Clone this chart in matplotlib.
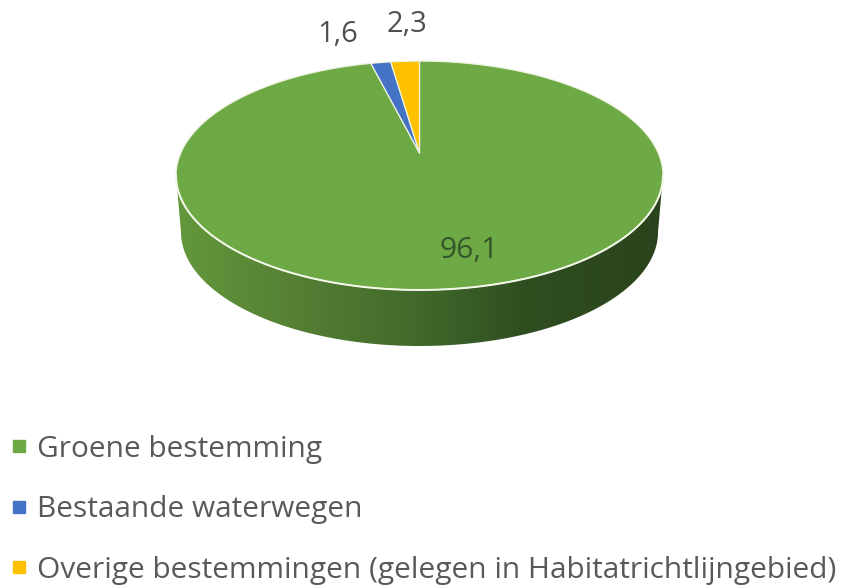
import numpy as np
import matplotlib
matplotlib.use('Agg')
import matplotlib.pyplot as plt
from matplotlib.colors import LinearSegmentedColormap
from matplotlib.lines import Line2D
from matplotlib.patches import Polygon

categories = ['Groene bestemming', 'Bestaande waterwegen',
              'Overige bestemmingen (gelegen in Habitatrichtlijngebied)']
values = [96.1, 1.6, 2.3]
labels = ['96,1', '1,6', '2,3']
colors = ['#6DA945', '#4472C4', '#FFC000']

W, H = 846, 585
APEX_X, APEX_Y = 419.5, 153
RADIUS = 238.7
SCALE_Y = 110
PERSP = 0.1965
WALL_STOPS = [(0, '#64983c'), (0.25, '#557f34'), (0.5, '#41692b'),
              (0.72, '#2f4e20'), (1, '#2b431c')]


def project(theta):
    # theta runs clockwise from 12 o'clock, the pie is tilted in perspective
    u, v = np.sin(theta), np.cos(theta)
    d = 1 + PERSP * v
    return APEX_X + RADIUS * u / d, APEX_Y - SCALE_Y * v / d


def main():
    plt.rcParams['font.family'] = ['Open Sans', 'DejaVu Sans']
    fig = plt.figure(figsize=(W / 100, H / 100), dpi=100)
    ax = fig.add_axes([0, 0, 1, 1])

    # side wall
    t = np.linspace(0, np.pi, 300)
    top_x = 419.5 - 243.5 * np.cos(t)
    top_y = 175.5 + 114.5 * np.sin(t)
    bot_x = 419.5 - 238.5 * np.cos(t)
    bot_y = 232 + 114 * np.sin(t)
    wall = Polygon(np.r_[np.c_[top_x, top_y], np.c_[bot_x, bot_y][::-1]],
                   closed=True, facecolor='none', edgecolor='none')
    ax.add_patch(wall)
    cmap = LinearSegmentedColormap.from_list('wall', WALL_STOPS)
    img = ax.imshow(np.linspace(0, 1, 256)[None, :], cmap=cmap, aspect='auto',
                    extent=[176, 663, 350, 170], zorder=1)
    img.set_clip_path(wall)

    # top face
    fractions = np.cumsum([0] + values) / sum(values)
    for i, color in enumerate(colors):
        th = np.linspace(fractions[i], fractions[i + 1], 400) * 2 * np.pi
        x, y = project(th)
        ax.fill(np.r_[APEX_X, x], np.r_[APEX_Y, y], facecolor=color,
                edgecolor='#eef3e0', linewidth=0.9, joinstyle='round', zorder=2)
    ax.plot(top_x, top_y, color='#f4f8ea', lw=1.4, zorder=3)

    ax.text(469, 251, labels[0], color='#37552a', fontsize=21.5,
            ha='center', va='center', zorder=4)
    ax.text(338, 35, labels[1], color='#505050', fontsize=21,
            ha='center', va='center')
    ax.text(407, 25, labels[2], color='#505050', fontsize=21,
            ha='center', va='center')

    handles = [Line2D([], [], ls='', marker='s', ms=8.5, color=c) for c in colors]
    ax.legend(handles, categories, loc='upper left', bbox_to_anchor=(0.0, 0.274),
              frameon=False, fontsize=21.5, labelcolor='#595959', labelspacing=1.06,
              handlelength=0.6, handletextpad=0.3, borderpad=0, borderaxespad=0.33)

    ax.set_xlim(0, W)
    ax.set_ylim(H, 0)
    ax.axis('off')
    fig.savefig('out.png', dpi=100, facecolor='white')


if __name__ == '__main__':
    main()
